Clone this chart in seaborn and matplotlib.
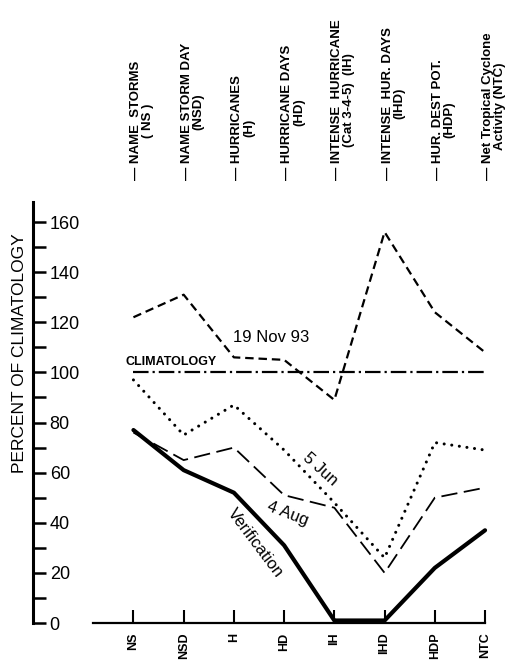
import numpy as np
import pandas as pd
import matplotlib.pyplot as plt
import seaborn as sns

# categories along the x axis
cats = ["NS", "NSD", "H", "HD", "IH", "IHD", "HDP", "NTC"]
top_labels = ["— NAME  STORMS\n( NS )",
              "— NAME STORM DAY\n(NSD)",
              "— HURRICANES\n(H)",
              "— HURRICANE DAYS\n(HD)",
              "— INTENSE  HURRICANE\n(Cat 3-4-5)  (IH)",
              "— INTENSE  HUR. DAYS\n(IHD)",
              "— HUR. DEST POT.\n(HDP)",
              "— Net Tropical Cyclone\nActivity (NTC)"]

# percent of climatology for each forecast
nov93 = [122, 131, 106, 105, 89, 156, 124, 108]
jun5 = [97, 75, 87, 69, 48, 26, 72, 69]
aug4 = [76, 65, 70, 51, 46, 20, 50, 54]
verification = [77, 61, 52, 31, 1, 1, 22, 37]
climatology = [100] * 8

df = pd.DataFrame({"cat": cats, "nov93": nov93, "jun5": jun5, "aug4": aug4,
                   "verif": verification, "clim": climatology})

sns.set_style("white")
plt.rcParams["font.family"] = ["Liberation Sans", "DejaVu Sans"]
for key in ["text.color", "axes.labelcolor", "xtick.color", "ytick.color", "axes.edgecolor"]:
    plt.rcParams[key] = "black"

fig = plt.figure(figsize=(5.09, 6.62), dpi=100)
ax = fig.add_axes([0.0648, 0.0589, 0.898, 0.636])

sns.lineplot(data=df, x="cat", y="clim", color="black", lw=1.6, sort=False,
             linestyle=(0, (7, 1.8, 1, 1.8)), ax=ax, legend=False)
sns.lineplot(data=df, x="cat", y="nov93", color="black", lw=1.6, sort=False,
             linestyle=(0, (3.8, 2.2)), ax=ax, legend=False)
sns.lineplot(data=df, x="cat", y="jun5", color="black", lw=2.2, sort=False,
             linestyle=(0, (0.01, 2.5)), dash_capstyle="round", ax=ax, legend=False)
sns.lineplot(data=df, x="cat", y="aug4", color="black", lw=1.3, sort=False,
             linestyle=(0, (9, 3.6)), ax=ax, legend=False)
sns.lineplot(data=df, x="cat", y="verif", color="black", lw=3, sort=False,
             ax=ax, legend=False, clip_on=False)

ax.set_xlim(-2, 7.1)
ax.set_ylim(0, 168)
ax.spines["top"].set_visible(False)
ax.spines["right"].set_visible(False)
ax.spines["left"].set_linewidth(2.2)
ax.spines["left"].set_bounds(0, 168)
ax.spines["bottom"].set_linewidth(1.6)
ax.spines["bottom"].set_bounds(-0.8, 7)

ax.set_yticks(np.arange(0, 161, 20))
ax.set_yticks(np.arange(10, 161, 20), minor=True)
ax.tick_params(axis="y", which="both", direction="in", length=9, width=1.8,
               left=True, pad=-12, labelsize=13)
for lab in ax.get_yticklabels():
    lab.set_horizontalalignment("left")

ax.set_xticks(range(len(cats)))
ax.set_xticklabels(cats, rotation=90, fontsize=9, fontweight="bold")
ax.tick_params(axis="x", direction="in", length=9.5, width=1.5, bottom=True, pad=7)

ax.set_xlabel("")
ax.set_ylabel("PERCENT OF CLIMATOLOGY", fontsize=12.5)
ax.yaxis.set_label_coords(-0.012, 0.64)

# category descriptions along the top
for i, lab in enumerate(top_labels):
    ax.text(i - 0.06, 1.052, lab, transform=ax.get_xaxis_transform(), rotation=90,
            ha="left", va="bottom", multialignment="center", fontsize=9.5,
            fontweight="bold", linespacing=1.0, clip_on=False)

ax.text(-0.16, 104, "CLIMATOLOGY", fontsize=9, fontweight="bold", va="center", ha="left")
ax.text(1.99, 114, "19 Nov 93", fontsize=12, va="center", ha="left")
ax.text(3.72, 61.5, "5 Jun", fontsize=12, rotation=-42, rotation_mode="anchor",
        ha="center", va="center")
ax.text(3.08, 43.5, "4 Aug", fontsize=12, rotation=-21, rotation_mode="anchor",
        ha="center", va="center")
ax.text(2.42, 32, "Verification", fontsize=12, rotation=-53, rotation_mode="anchor",
        ha="center", va="center")

fig.savefig("out.png", dpi=100)
